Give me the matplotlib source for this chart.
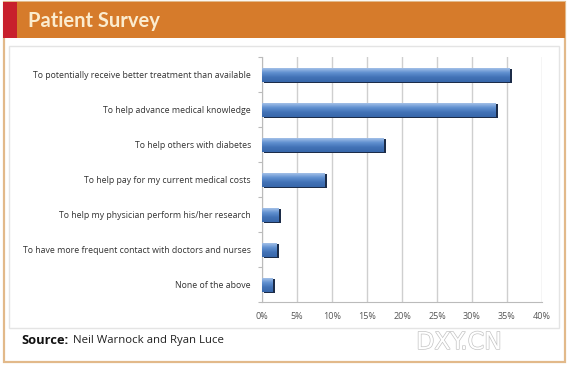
import matplotlib
matplotlib.use("Agg")
import matplotlib.pyplot as plt
import matplotlib.patheffects as pe
from matplotlib.patches import Rectangle
from matplotlib.colors import LinearSegmentedColormap
import numpy as np

categories = [
    "To potentially receive better treatment than available",
    "To help advance medical knowledge",
    "To help others with diabetes",
    "To help pay for my current medical costs",
    "To help my physician perform his/her research",
    "To have more frequent contact with doctors and nurses",
    "None of the above",
]
values = [35.4, 33.4, 17.4, 8.9, 2.4, 2.1, 1.5]
xticks = [0, 5, 10, 15, 20, 25, 30, 35, 40]
xtick_labels = ["0%", "5%", "10%", "15%", "20%", "25%", "30%", "35%", "40%"]

W, H = 568, 366
fig = plt.figure(figsize=(W / 100, H / 100), dpi=100)
fig.patch.set_facecolor("white")

def fx(px):
    return px / W

def fy(py):
    return 1 - py / H

# outer tan frame
fig.add_artist(Rectangle((fx(4), fy(362)), fx(565) - fx(4), fy(2) - fy(362),
                         transform=fig.transFigure, facecolor="white",
                         edgecolor="#e2b98a", lw=1.6, zorder=0))
# title band
fig.add_artist(Rectangle((fx(3), fy(38)), fx(565) - fx(3), fy(2) - fy(38),
                         transform=fig.transFigure, facecolor="#d67b2b",
                         edgecolor="none", zorder=1))
fig.add_artist(Rectangle((fx(3), fy(38)), fx(17) - fx(3), fy(2) - fy(38),
                         transform=fig.transFigure, facecolor="#c8202c",
                         edgecolor="none", zorder=2))
fig.text(fx(28), fy(21), "Patient Survey", color="#fbeccf", fontsize=14.5,
         fontweight="bold", family="Lato", va="center", ha="left", zorder=3)

# inner panel
fig.add_artist(Rectangle((fx(9), fy(328)), fx(559) - fx(9), fy(46) - fy(328),
                         transform=fig.transFigure, facecolor="white",
                         edgecolor="#e4e4e4", lw=1.0, zorder=1))

ax = fig.add_axes([fx(262), fy(302), fx(542) - fx(262), fy(57) - fy(302)])
ax.set_zorder(5)
ax.patch.set_alpha(0)

n = len(categories)
y = np.arange(n)
bars = ax.barh(y, values, height=0.4, color="#4f80c3", edgecolor="none", zorder=3,
               path_effects=[pe.SimplePatchShadow(offset=(1.6, -1.4),
                                                  shadow_rgbFace="#1c2c48", alpha=1.0),
                             pe.Normal()])
grad = np.linspace(0, 1, 64).reshape(-1, 1)
cmap = LinearSegmentedColormap.from_list("b", ["#a3c0e8", "#5f8fcf", "#4272b6", "#3867aa"])
for b in bars:
    x0, y0 = b.get_x(), b.get_y()
    w, h = b.get_width(), b.get_height()
    im = ax.imshow(grad, extent=[x0, x0 + w, y0 + h, y0], aspect="auto",
                   cmap=cmap, zorder=4, origin="upper")
    im.set_clip_path(b)

ax.set_xlim(0, 40)
ax.set_ylim(n - 0.5, -0.5)
ax.set_xticks(xticks)
ax.set_xticklabels(xtick_labels, fontsize=6.5, color="#555555", family="Open Sans")
ax.set_yticks(y)
ax.set_yticklabels(categories, fontsize=6.35, color="#333333", family="Open Sans")
ax.tick_params(axis="y", length=0, pad=8)
ax.tick_params(axis="x", length=0, pad=7)
ax.set_yticks(np.arange(-0.5, n, 1.0), minor=True)
ax.tick_params(axis="y", which="minor", length=3, color="#bbbbbb", width=0.8)
ax.grid(axis="x", color="#cfcfcf", lw=1.0, zorder=0)
ax.set_axisbelow(True)
for s in ["top", "right"]:
    ax.spines[s].set_visible(False)
ax.spines["left"].set_color("#bbbbbb")
ax.spines["bottom"].set_color("#bbbbbb")
ax.spines["left"].set_linewidth(0.8)
ax.spines["bottom"].set_linewidth(0.8)
ax.xaxis.set_ticks_position("bottom")

# source line
fig.text(fx(21), fy(340), "Source:", fontsize=9.3, fontweight="bold",
         family="Open Sans", color="#111111", va="center", ha="left", zorder=6)
fig.text(fx(73), fy(340), "Neil Warnock and Ryan Luce", fontsize=8.2,
         family="Open Sans", color="#222222", va="center", ha="left", zorder=6)

# watermark
fig.text(fx(459), fy(342), "DXY.CN", fontsize=17, family="DejaVu Sans",
         color="white", ha="center", va="center", zorder=7,
         path_effects=[pe.withStroke(linewidth=1.0, foreground="#c4c4c4")])

fig.savefig("out.png", dpi=100, facecolor="white")
